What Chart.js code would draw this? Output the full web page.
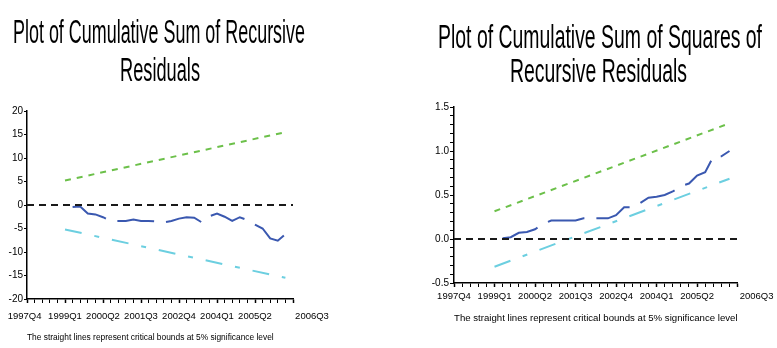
<!DOCTYPE html>
<html>
<head>
<meta charset="utf-8">
<script src="https://cdn.jsdelivr.net/npm/chart.js@4/dist/chart.umd.min.js"></script>
<style>
  html, body { margin: 0; padding: 0; background: #fff; }
  #wrap { position: relative; width: 777px; height: 348px; overflow: hidden; }
  canvas { position: absolute; top: 0; }
  #c1 { left: 0; }
  #c2 { left: 390px; }
</style>
</head>
<body>
<div id="wrap">
  <canvas id="c1" width="390" height="348"></canvas>
  <canvas id="c2" width="387" height="348"></canvas>
</div>
<script>
// ---------- data ----------
const quarters = ['1997Q4','1998Q1','1998Q2','1998Q3','1998Q4','1999Q1','1999Q2','1999Q3','1999Q4',
  '2000Q1','2000Q2','2000Q3','2000Q4','2001Q1','2001Q2','2001Q3','2001Q4','2002Q1','2002Q2','2002Q3',
  '2002Q4','2003Q1','2003Q2','2003Q3','2003Q4','2004Q1','2004Q2','2004Q3','2004Q4','2005Q1','2005Q2',
  '2005Q3','2005Q4','2006Q1','2006Q2','2006Q3'];
const seriesQuarters = quarters.slice(6, 35);          // 1999Q2 .. 2006Q2
const boundStart = '1999Q1';
const boundEnd = '2006Q2';

const cusum = [-0.4, -0.3, -1.8, -2.0, -2.6, -3.4, -3.4, -3.4, -3.1, -3.4, -3.4, -3.5, -3.7, -3.4,
  -2.9, -2.6, -2.7, -3.7, -2.4, -1.8, -2.5, -3.4, -2.6, -3.2, -4.2, -5.0, -7.1, -7.6, -6.2];
const cusumUpper = [5.2, 15.5];     // at boundStart, boundEnd
const cusumLower = [-5.2, -15.5];

const cusumSq = [0.01, 0.02, 0.07, 0.08, 0.11, 0.17, 0.21, 0.21, 0.21, 0.21, 0.235, 0.235, 0.235,
  0.235, 0.27, 0.36, 0.36, 0.41, 0.47, 0.48, 0.50, 0.54, 0.60, 0.63, 0.72, 0.76, 0.935, 0.94, 1.0];
const cusumSqUpper = [0.315, 1.315];
const cusumSqLower = [-0.315, 0.685];

const title1 = ['Plot of Cumulative Sum of Recursive', 'Residuals'];
const title2 = ['Plot of Cumulative Sum of Squares of', 'Recursive Residuals'];
const note = 'The straight lines represent critical bounds at 5% significance level';

// ---------- helpers ----------
const FAMILY = "'Liberation Sans', Arial, sans-serif";
const XTICK_FONT = { family: FAMILY, size: 9.5 };
const YTICK_FONT = { family: FAMILY, size: 10 };
const EM = '\u2003';

function pts(labels, values) { return labels.map((q, i) => ({ x: q, y: values[i] })); }
function boundPts(values) { return [{ x: boundStart, y: values[0] }, { x: boundEnd, y: values[1] }]; }
function zeroPts() { return [{ x: quarters[0], y: 0 }, { x: quarters[quarters.length - 1], y: 0 }]; }

const squeezedTitle = {
  id: 'squeezedTitle',
  afterDraw(chart, args, opts) {
    const ctx = chart.ctx;
    ctx.save();
    ctx.font = opts.font;
    ctx.fillStyle = '#000';
    ctx.textBaseline = 'alphabetic';
    ctx.textAlign = 'left';
    opts.lines.forEach(l => {
      const w = ctx.measureText(l.text).width;
      ctx.save();
      ctx.translate(l.cx - l.w / 2, l.y);
      ctx.scale(l.w / w, 1);
      ctx.fillText(l.text, 0, 0);
      ctx.restore();
    });
    ctx.restore();
  }
};

function makeDatasets(series, upper, lower) {
  return [
    { data: zeroPts(), borderColor: '#1a1a1a', borderWidth: 2, borderDash: [7, 5] },
    { data: boundPts(upper), borderColor: '#6cc04a', borderWidth: 2, borderDash: [6, 6] },
    { data: boundPts(lower), borderColor: '#6ccfe0', borderWidth: 2, borderDash: [17, 13, 5, 13] },
    { data: pts(seriesQuarters, series), borderColor: '#3a58b0', borderWidth: 2, borderDash: [37, 12] }
  ];
}

function makeChart(id, cfg) {
  return new Chart(document.getElementById(id), {
    type: 'line',
    data: { labels: quarters, datasets: makeDatasets(cfg.series, cfg.upper, cfg.lower) },
    plugins: [squeezedTitle],
    options: {
      responsive: false,
      animation: false,
      events: [],
      elements: { point: { radius: 0 }, line: { tension: 0, fill: false, borderCapStyle: 'butt' } },
      layout: { padding: { top: cfg.top, right: cfg.right, left: 0, bottom: 0 } },
      plugins: {
        legend: { display: false },
        tooltip: { enabled: false },
        title: { display: false },
        squeezedTitle: cfg.titleOpts
      },
      scales: {
        x: {
          type: 'category',
          offset: false,
          afterFit: s => { s.height = cfg.xHeight; },
          border: { display: true, color: '#000', width: 1.5 },
          grid: {
            display: true, drawOnChartArea: false, drawTicks: true, tickLength: 4,
            tickColor: '#000',
            tickWidth: c => (c.index % 5 === 0 ? 1.5 : 1)
          },
          ticks: {
            autoSkip: false, maxRotation: 0, minRotation: 0, color: '#000',
            padding: cfg.xPad, font: XTICK_FONT,
            callback: (v, i) => {
              if (i % 5 !== 0) return '';
              if (i === quarters.length - 1) return EM + EM + EM + EM + quarters[i];
              if (i === 0) return quarters[i] + cfg.firstPad;
              return quarters[i];
            }
          },
          title: {
            display: true, text: note, align: 'start', color: '#000',
            font: { family: FAMILY, size: cfg.noteSize },
            padding: { top: 0, bottom: cfg.notePad }
          }
        },
        y: {
          min: cfg.ymin, max: cfg.ymax,
          afterFit: s => { s.width = cfg.yWidth; },
          border: { display: true, color: '#000', width: 1.5 },
          grid: { display: true, drawOnChartArea: false, drawTicks: true, tickLength: cfg.yTick, tickColor: '#000' },
          ticks: {
            stepSize: cfg.ystep, color: '#000', padding: 1, font: YTICK_FONT,
            autoSkip: false,
            callback: cfg.yLabel
          }
        }
      }
    }
  });
}

makeChart('c1', {
  series: cusum, upper: cusumUpper, lower: cusumLower,
  top: 111, right: 97, xHeight: 49, yWidth: 27, yTick: 3, xPad: 7.5, firstPad: '\u2002',
  noteSize: 8.4, notePad: 4.8,
  ymin: -20, ymax: 20, ystep: 5,
  yLabel: v => String(v),
  titleOpts: {
    font: "33px 'Liberation Sans', Arial, sans-serif",
    lines: [
      { text: title1[0], cx: 159, w: 292, y: 43 },
      { text: title1[1], cx: 160, w: 80, y: 81 }
    ]
  }
});

makeChart('c2', {
  series: cusumSq, upper: cusumSqUpper, lower: cusumSqLower,
  top: 107, right: 37, xHeight: 65, yWidth: 64, yTick: 4, xPad: 3.5, firstPad: '',
  noteSize: 9.75, notePad: 24,
  ymin: -0.5, ymax: 1.5, ystep: 0.1,
  yLabel: v => {
    const r = Math.round(v * 2);
    return Math.abs(v * 2 - r) < 1e-6 ? (r / 2).toFixed(1) : '';
  },
  titleOpts: {
    font: "33px 'Liberation Sans', Arial, sans-serif",
    lines: [
      { text: title2[0], cx: 210, w: 324, y: 48 },
      { text: title2[1], cx: 208.5, w: 177, y: 82 }
    ]
  }
});
</script>
</body>
</html>
